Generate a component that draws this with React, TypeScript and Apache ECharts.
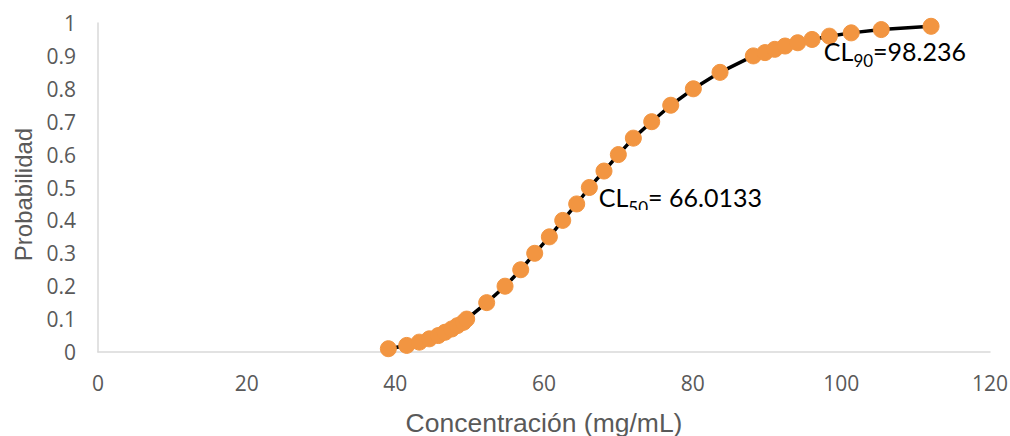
import React, { useEffect, useRef } from "react";
import * as echarts from "echarts";

const concentrations = [
  39.06, 41.53, 43.23, 44.57, 45.78, 46.68, 47.59, 48.34, 49.15, 49.6,
  52.29, 54.76, 56.87, 58.75, 60.72, 62.52, 64.4, 66.1, 68.07, 70.0,
  72.02, 74.49, 77.05, 80.09, 83.68, 88.16, 89.73, 91.04, 92.43, 94.13,
  96.06, 98.39, 101.33, 105.37, 112.07,
];
const probabilities = [
  0.01, 0.02, 0.03, 0.04, 0.05, 0.06, 0.07, 0.08, 0.09, 0.1,
  0.15, 0.2, 0.25, 0.3, 0.35, 0.4, 0.45, 0.5, 0.55, 0.6,
  0.65, 0.7, 0.75, 0.8, 0.85, 0.9, 0.91, 0.92, 0.93, 0.94,
  0.95, 0.96, 0.97, 0.98, 0.99,
];
const xTicks = [0, 20, 40, 60, 80, 100, 120];
const yTicks = [0, 0.1, 0.2, 0.3, 0.4, 0.5, 0.6, 0.7, 0.8, 0.9, 1];
const xTitle = "Concentración (mg/mL)";
const yTitle = "Probabilidad";
const cl50Index = 17;
const cl50Text = ["CL", "50", "= 66.0133"];
const cl90Index = 31;
const cl90Text = ["CL", "90", "=98.236"];

const TICK_FONT = "Open Sans";
const TITLE_FONT = "Liberation Sans";
const NOTE_FONT = "Lato";

export default function App() {
  const ref = useRef<HTMLDivElement>(null);
  useEffect(() => {
    if (!ref.current) return;
    const chart = echarts.init(ref.current, null, { renderer: "svg" });
    const rich = {
      a: { fontFamily: NOTE_FONT, fontSize: 25, lineHeight: 25, color: "#000", verticalAlign: "top" },
      s: {
        fontFamily: NOTE_FONT,
        fontSize: 17,
        lineHeight: 17,
        color: "#000",
        verticalAlign: "top",
        padding: [14, 0, 0, 0],
      },
    };
    const data = concentrations.map((c, i) => {
      const item: any = { value: [c, probabilities[i]] };
      if (i === cl50Index) {
        item.label = {
          show: true,
          position: [18, 18],
          align: "left",
          verticalAlign: "middle",
          formatter: `{a|${cl50Text[0]}}{s|${cl50Text[1]}}{a|${cl50Text[2]}}`,
          rich,
        };
      }
      if (i === cl90Index) {
        item.label = {
          show: true,
          position: [3, 23],
          align: "left",
          verticalAlign: "middle",
          formatter: `{a|${cl90Text[0]}}{s|${cl90Text[1]}}{a|${cl90Text[2]}}`,
          rich,
        };
      }
      return item;
    });
    chart.setOption({
      animation: false,
      backgroundColor: "#fff",
      grid: { left: 98, right: 20, top: 23, bottom: 84, outerBoundsMode: "none", containLabel: false },
      xAxis: {
        type: "value",
        min: xTicks[0],
        max: xTicks[xTicks.length - 1],
        interval: 20,
        name: xTitle,
        nameLocation: "middle",
        nameGap: 57,
        nameTextStyle: { fontFamily: TITLE_FONT, fontSize: 26.5, color: "#595959" },
        axisLine: { show: true, lineStyle: { color: "#D9D9D9", width: 1.5 } },
        axisTick: { show: false },
        splitLine: { show: false },
        axisLabel: { fontFamily: TICK_FONT, fontSize: 21, color: "#595959", margin: 20 },
      },
      yAxis: {
        type: "value",
        min: yTicks[0],
        max: yTicks[yTicks.length - 1],
        interval: 0.1,
        name: yTitle,
        nameLocation: "middle",
        nameGap: 62,
        nameTextStyle: {
          fontFamily: TITLE_FONT,
          fontSize: 24,
          color: "#595959",
          padding: [0, 14, 0, 0],
        },
        axisLine: { show: true, lineStyle: { color: "#D9D9D9", width: 1.5 } },
        axisTick: { show: false },
        splitLine: { show: false },
        axisLabel: {
          fontFamily: TICK_FONT,
          fontSize: 21,
          color: "#595959",
          margin: 22,
          formatter: (v: number) => String(Math.round(v * 10) / 10),
        },
      },
      series: [
        {
          type: "line",
          data,
          symbol: "circle",
          symbolSize: 16,
          lineStyle: { color: "#000", width: 3.5 },
          itemStyle: { color: "#F29541", borderColor: "#F29541" },
          z: 2,
        },
      ],
      graphic: [
        {
          type: "rect",
          z: 100,
          shape: { x: 620, y: 210, width: 36, height: 16 },
          style: { fill: "#fff" },
        },
      ],
    });
    return () => chart.dispose();
  }, []);
  return (
    <div
      ref={ref}
      style={{ position: "fixed", left: 0, top: 0, width: 1010, height: 436 }}
    />
  );
}
